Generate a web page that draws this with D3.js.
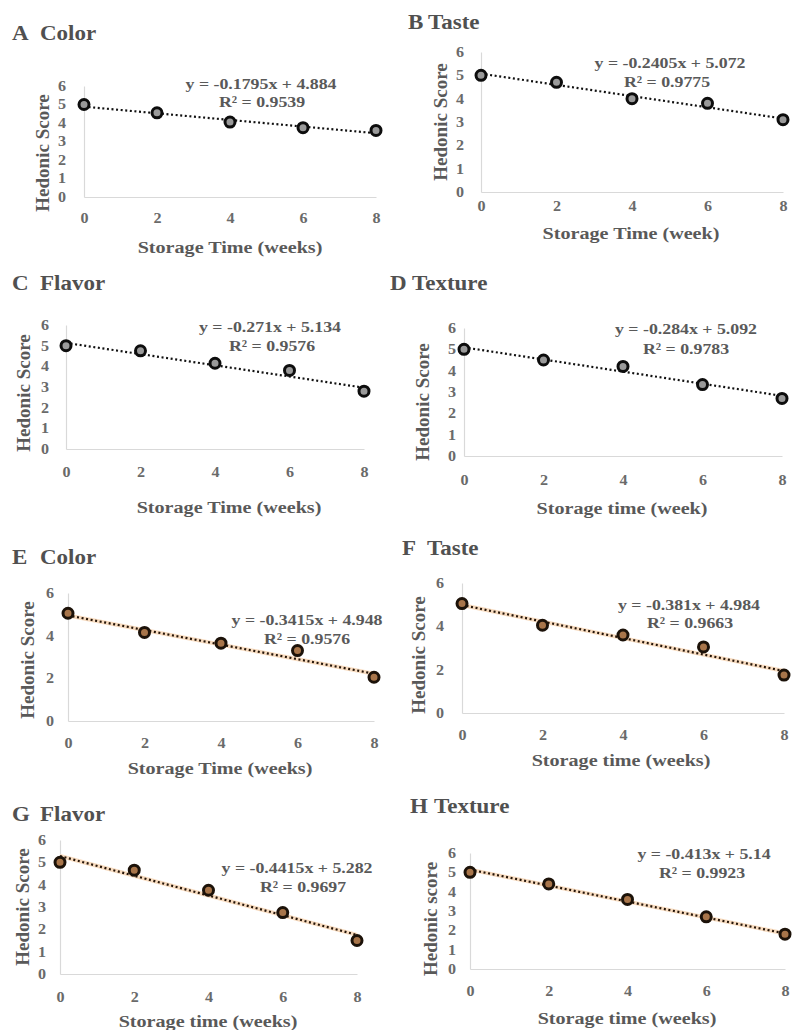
<!DOCTYPE html>
<html>
<head>
<meta charset="utf-8">
<title>Hedonic score vs storage time</title>
<script src="https://d3js.org/d3.v7.min.js" charset="utf-8"></script>
<style>
    body { margin: 0; background: #fff; }
    text { font-family: "Liberation Serif", "Times New Roman", serif; font-weight: bold; fill: #595959; }
</style>
</head>
<body>
<svg id="chart" width="795" height="1030"></svg>
<script>
    // data
    var weeks = [0, 2, 4, 6, 8];
    var letters = ["A", "B", "C", "D", "E", "F", "G", "H"];
    var attributes = ["Color", "Taste", "Flavor", "Texture", "Color", "Taste", "Flavor", "Texture"];
    var scoreA = [5.0, 4.55, 4.05, 3.75, 3.6];
    var scoreB = [5.0, 4.7, 4.0, 3.8, 3.1];
    var scoreC = [5.0, 4.75, 4.15, 3.8, 2.8];
    var scoreD = [5.0, 4.5, 4.2, 3.35, 2.7];
    var scoreE = [5.05, 4.15, 3.65, 3.3, 2.05];
    var scoreF = [5.05, 4.05, 3.6, 3.05, 1.75];
    var scoreG = [5.0, 4.65, 3.75, 2.75, 1.5];
    var scoreH = [5.0, 4.4, 3.6, 2.7, 1.8];
    var slopes = [-0.1795, -0.2405, -0.271, -0.284, -0.3415, -0.381, -0.4415, -0.413];
    var intercepts = [4.884, 5.072, 5.134, 5.092, 4.948, 4.984, 5.282, 5.14];
    var rSquared = ["0.9539", "0.9775", "0.9576", "0.9783", "0.9576", "0.9663", "0.9697", "0.9923"];
    var yTicksAll = [0, 1, 2, 3, 4, 5, 6];
    var yTicksEven = [0, 2, 4, 6];
    var xTitles = ["Storage Time (weeks)", "Storage Time (week)", "Storage Time (weeks)", "Storage time (week)",
                   "Storage Time (weeks)", "Storage time (weeks)", "Storage time (weeks)", "Storage time (weeks)"];
    var yTitles = ["Hedonic Score", "Hedonic Score", "Hedonic Score", "Hedonic Score",
                   "Hedonic Score", "Hedonic Score", "Hedonic Score", "Hedonic score"];

    var scores = [scoreA, scoreB, scoreC, scoreD, scoreE, scoreF, scoreG, scoreH];
    var tickSets = [yTicksAll, yTicksAll, yTicksAll, yTicksAll, yTicksEven, yTicksEven, yTicksAll, yTicksAll];

    // where each panel sits on the page (pixels)
    // xr/yr = plot range, yt = y tick label x, xt = x tick label y, title = [letter x, name x, y]
    var layout = [
        {xr: [84, 376],  yr: [197, 86],  yt: 62,  xt: 218, xTitle: [230, 247],  yTitle: [42, 153],  title: [12, 40, 33],   eq: [261, 84],  r2: [262, 102]},
        {xr: [481, 783], yr: [192, 52],  yt: 460, xt: 206, xTitle: [631, 233],  yTitle: [440, 122], title: [408, 428, 22], eq: [670, 63],  r2: [667, 82]},
        {xr: [66, 364],  yr: [449, 325], yt: 45,  xt: 472, xTitle: [229, 507],  yTitle: [23, 393],  title: [12, 40, 283],  eq: [270, 327], r2: [272, 346]},
        {xr: [464, 782], yr: [456, 328], yt: 452, xt: 480, xTitle: [622, 508],  yTitle: [422, 402], title: [390, 412, 283], eq: [686, 329], r2: [686, 349]},
        {xr: [68, 374],  yr: [721, 593], yt: 50,  xt: 743, xTitle: [220, 768],  yTitle: [27, 660],  title: [12, 40, 557],  eq: [307, 620], r2: [307, 639]},
        {xr: [462, 784], yr: [713, 583], yt: 440, xt: 735, xTitle: [621, 760],  yTitle: [418, 655], title: [402, 427, 548], eq: [689, 605], r2: [690, 623]},
        {xr: [60, 357],  yr: [974, 840], yt: 42,  xt: 997, xTitle: [208, 1021], yTitle: [22, 907],  title: [12, 40, 814],  eq: [297, 868], r2: [303, 887]},
        {xr: [470, 785], yr: [969, 853], yt: 452, xt: 991, xTitle: [627, 1018], yTitle: [430, 919], title: [410, 434, 806], eq: [704, 854], r2: [702, 873]}
    ];

    var stretch = 1.15; // the figure is a bit wider than tall
    var svg = d3.select("#chart");

    // text helper, centred on (x, y), squeezed wider like the scan
    function label(g, x, y, str, size, anchor) {
        return g.append("text")
            .attr("transform", `translate(${x},${y}) scale(${stretch},1)`)
            .attr("text-anchor", anchor || "middle")
            .attr("dy", "0.35em")
            .style("font-size", size + "px")
            .text(str);
    }

    letters.forEach(function(letter, i) {
        var L = layout[i];
        var g = svg.append("g");
        var x = d3.scaleLinear().domain([0, 8]).range(L.xr);
        var y = d3.scaleLinear().domain([0, 6]).range(L.yr);
        var brown = i >= 4;

        // title
        label(g, L.title[0], L.title[2], letter, 20, "start").style("fill", "#505050");
        label(g, L.title[1], L.title[2], attributes[i], 20, "start").style("fill", "#505050");

        // x axis
        var xAxis = g.append("g")
            .attr("transform", `translate(0,${L.yr[0]})`)
            .call(d3.axisBottom(x).tickValues(weeks).tickFormat(d3.format("d")).tickSize(0).tickSizeOuter(0));
        xAxis.select(".domain").attr("stroke", "#d9d9d9").attr("stroke-width", 1.2);
        xAxis.selectAll("text")
            .attr("y", L.xt - L.yr[0])
            .attr("dy", "0.35em")
            .attr("transform", `scale(${stretch},1)`)
            .attr("font-family", null).attr("font-size", null)
            .style("font-size", "14px")
            .style("fill", "#6a6a6a");

        // y axis
        var yAxis = g.append("g")
            .attr("transform", `translate(${L.xr[0]},0)`)
            .call(d3.axisLeft(y).tickValues(tickSets[i]).tickFormat(d3.format("d")).tickSize(0).tickSizeOuter(0));
        yAxis.select(".domain").attr("stroke", "#d9d9d9").attr("stroke-width", 1.2);
        yAxis.selectAll("text")
            .attr("x", 0)
            .attr("text-anchor", "middle")
            .attr("transform", `translate(${L.yt - L.xr[0]},0) scale(${stretch},1)`)
            .attr("font-family", null).attr("font-size", null)
            .style("font-size", "14px")
            .style("fill", "#6a6a6a");

        // axis titles
        label(g, L.xTitle[0], L.xTitle[1], xTitles[i], 17.5);
        g.append("text")
            .attr("transform", `translate(${L.yTitle[0]},${L.yTitle[1]}) rotate(-90)`)
            .attr("text-anchor", "middle")
            .attr("dy", "0.35em")
            .style("font-size", "19px")
            .text(yTitles[i]);

        // linear trendline from the printed equation
        var trend = d3.line()
            .x(d => x(d))
            .y(d => y(slopes[i] * d + intercepts[i]));
        if (brown) {
            g.append("path")
                .attr("d", trend([0, 8]))
                .attr("stroke", "#f8dcc0")
                .attr("stroke-width", 4)
                .attr("fill", "none");
        }
        g.append("path")
            .attr("d", trend([0, 8]))
            .attr("stroke", brown ? "#241408" : "#111")
            .attr("stroke-width", 2.2)
            .attr("stroke-dasharray", "2,2.6")
            .attr("fill", "none");

        // points
        g.selectAll("circle")
            .data(weeks)
            .join("circle")
            .attr("cx", d => x(d))
            .attr("cy", (d, j) => y(scores[i][j]))
            .attr("r", 5)
            .attr("fill", brown ? "#a8754a" : "#9a9a9a")
            .attr("stroke", brown ? "#1c1209" : "#0d0d0d")
            .attr("stroke-width", 3);

        // equation and R squared
        label(g, L.eq[0], L.eq[1], `y = ${slopes[i]}x + ${intercepts[i]}`, 15.5);
        label(g, L.r2[0], L.r2[1], `R² = ${rSquared[i]}`, 15.5);
    });
</script>
</body>
</html>
